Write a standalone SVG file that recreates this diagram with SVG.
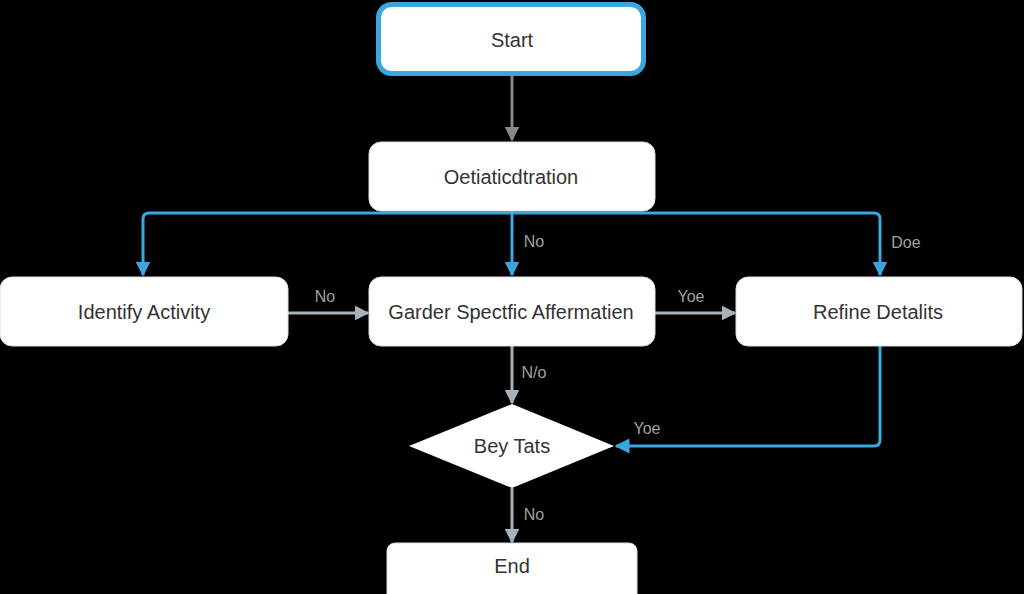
<svg xmlns="http://www.w3.org/2000/svg" width="1024" height="594" viewBox="0 0 1024 594">
<style>
.box{fill:#fff;stroke:#ddd;stroke-width:1}
.t{font-family:"Liberation Sans",Arial,sans-serif;font-size:20px;fill:#333;text-anchor:middle;dominant-baseline:central}
.lbl{font-family:"Liberation Sans",Arial,sans-serif;font-size:16px;fill:#a0a0a0;text-anchor:middle;dominant-baseline:central}
.blue{fill:none;stroke:#3aa6df;stroke-width:3}
.grey{fill:none;stroke:#a7b2bb;stroke-width:3}
.dgrey{fill:none;stroke:#888;stroke-width:3}
</style>
<defs>
<marker id="ab" viewBox="0 0 10 10" refX="9" refY="5" markerWidth="5" markerHeight="5" orient="auto" markerUnits="strokeWidth"><path d="M0,0L10,5L0,10z" fill="#3aa6df"/></marker>
<marker id="ag" viewBox="0 0 10 10" refX="9" refY="5" markerWidth="5" markerHeight="5" orient="auto" markerUnits="strokeWidth"><path d="M0,0L10,5L0,10z" fill="#a7b2bb"/></marker>
<marker id="ad" viewBox="0 0 10 10" refX="9" refY="5" markerWidth="5" markerHeight="5" orient="auto" markerUnits="strokeWidth"><path d="M0,0L10,5L0,10z" fill="#888"/></marker>
</defs>
<rect width="1024" height="594" fill="#000"/>
<g id="connectors">
<path class="dgrey" d="M512,75V140" marker-end="url(#ad)"/>
<path class="blue" d="M512,213H149Q143,213 143,219V275" marker-end="url(#ab)"/>
<path class="blue" d="M512,213H874Q880,213 880,219V275" marker-end="url(#ab)"/>
<path class="blue" d="M512,211V275" marker-end="url(#ab)"/>
<path class="grey" d="M288,313H368" marker-end="url(#ag)"/>
<path class="grey" d="M655,313H735" marker-end="url(#ag)"/>
<path class="grey" d="M512,346V403" marker-end="url(#ag)"/>
<path class="blue" d="M880,346V440Q880,446 874,446H616" marker-end="url(#ab)"/>
<path class="grey" d="M512,488V542" marker-end="url(#ag)"/>
<text class="lbl" x="534" y="241">No</text>
<text class="lbl" x="906" y="242">Doe</text>
<text class="lbl" x="325" y="296">No</text>
<text class="lbl" x="691" y="296">Yoe</text>
<text class="lbl" x="534" y="372">N/o</text>
<text class="lbl" x="647" y="428">Yoe</text>
<text class="lbl" x="534" y="514">No</text>
</g>
<g id="start"><rect x="378.5" y="4.5" width="265" height="69" rx="13" fill="#fff" stroke="#3aa6df" stroke-width="5"/><text class="t" x="512" y="40">Start</text></g>
<g id="oetiatic"><rect class="box" x="369" y="142" width="286" height="69" rx="12"/><text class="t" x="511" y="177">Oetiaticdtration</text></g>
<g id="identify"><rect class="box" x="0" y="277" width="288" height="69" rx="12"/><text class="t" x="144" y="312">Identify Activity</text></g>
<g id="garder"><rect class="box" x="369" y="277" width="286" height="69" rx="12"/><text class="t" x="511" y="312">Garder Spectfic Affermatien</text></g>
<g id="refine"><rect class="box" x="736" y="277" width="286" height="69" rx="12"/><text class="t" x="878" y="312">Refine Detalits</text></g>
<g id="decision"><polygon points="512,404 614,446 512,488 409,446" fill="#fff"/><text class="t" x="512" y="446">Bey Tats</text></g>
<g id="end"><rect class="box" x="387" y="543" width="250" height="60" rx="8"/><text class="t" x="512" y="566">End</text></g>
</svg>
